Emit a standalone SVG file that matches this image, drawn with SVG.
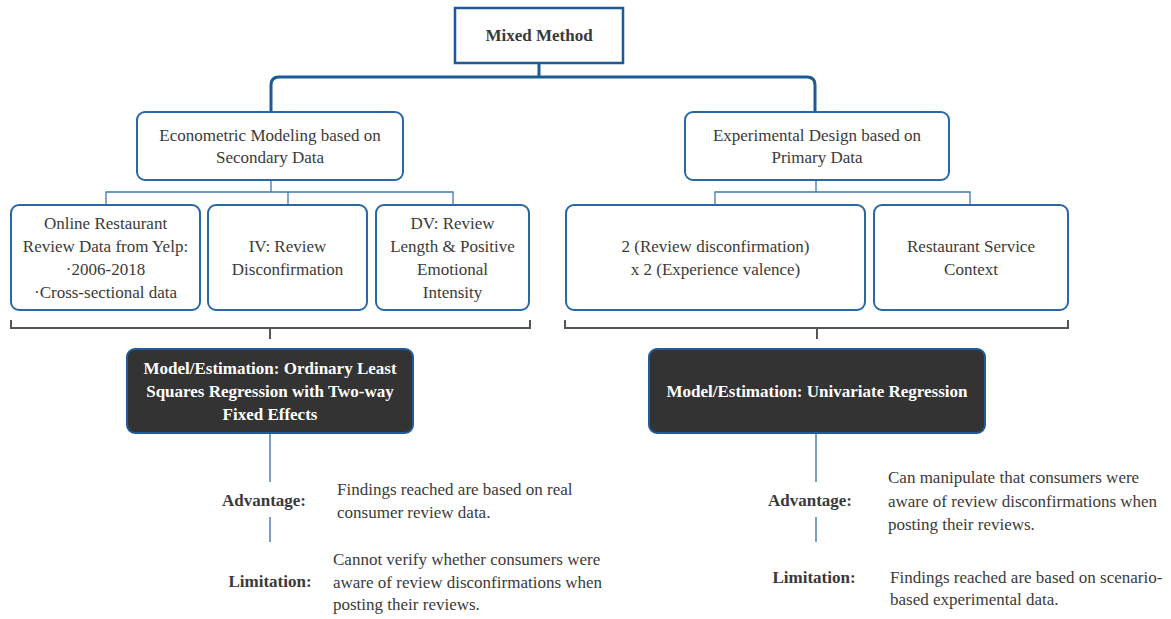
<svg xmlns="http://www.w3.org/2000/svg" width="1171" height="619" viewBox="0 0 1171 619">
<style>
text{font-family:"Liberation Serif","Times New Roman",serif;font-size:17px;fill:#3a3a3a;text-anchor:middle}
.b{font-weight:bold}
.w{fill:#ffffff;font-weight:bold}
.l{text-anchor:start}
.box{fill:#ffffff;stroke:#2a67a3;stroke-width:2}
.dark{fill:#333333;stroke:#1f5c99;stroke-width:2}
.main{fill:none;stroke:#1d5a96;stroke-width:3}
.thin{fill:none;stroke:#3f77b2;stroke-width:1.3}
.brk{fill:none;stroke:#555555;stroke-width:2}
.low{fill:none;stroke:#5f87b3;stroke-width:1.6}
</style>
<rect width="1171" height="619" fill="#ffffff"/>
<g id="connectors">
<path class="main" d="M539,63 V77 M271,112 V85 Q271,77 279,77 H807 Q815,77 815,85 V112"/>
<path class="thin" d="M271,180 V192 M106,205 V192 H453 V205 M288,192 V205"/>
<path class="thin" d="M816,180 V192 M715,205 V192 H970 V205"/>
<path class="brk" d="M11,320 V328 H530 V320 M270,328 V339"/>
<path class="brk" d="M565,320 V328 H1068 V320 M817,328 V339"/>
<path class="low" d="M270,433 V482 M270,517 V542"/>
<path class="low" d="M816,433 V482 M816,517 V542"/>
</g>
<g id="mixed">
<rect x="455" y="8" width="168" height="55" fill="#ffffff" stroke="#1d5a96" stroke-width="2.5"/>
<text class="b" x="539" y="41">Mixed Method</text>
</g>
<g id="econometric">
<rect class="box" x="137" y="112" width="266" height="68" rx="8"/>
<text x="270" y="141">Econometric Modeling based on</text>
<text x="270" y="163">Secondary Data</text>
</g>
<g id="experimental">
<rect class="box" x="685" y="112" width="264" height="68" rx="8"/>
<text x="817" y="141">Experimental Design based on</text>
<text x="817" y="163">Primary Data</text>
</g>
<g id="online">
<rect class="box" x="11" y="205" width="189" height="105" rx="8"/>
<text x="105.5" y="229">Online Restaurant</text>
<text x="105.5" y="252">Review Data from Yelp:</text>
<text x="105.5" y="275">·2006-2018</text>
<text x="105.5" y="298">·Cross-sectional data</text>
</g>
<g id="iv">
<rect class="box" x="208" y="205" width="159" height="105" rx="8"/>
<text x="287.5" y="252">IV: Review</text>
<text x="287.5" y="275">Disconfirmation</text>
</g>
<g id="dv">
<rect class="box" x="376" y="205" width="153" height="105" rx="8"/>
<text x="452.5" y="229">DV: Review</text>
<text x="452.5" y="252">Length &amp; Positive</text>
<text x="452.5" y="275">Emotional</text>
<text x="452.5" y="298">Intensity</text>
</g>
<g id="design">
<rect class="box" x="566" y="205" width="299" height="105" rx="8"/>
<text x="715.5" y="252">2 (Review disconfirmation)</text>
<text x="715.5" y="275">x 2 (Experience valence)</text>
</g>
<g id="context">
<rect class="box" x="874" y="205" width="194" height="105" rx="8"/>
<text x="971" y="252">Restaurant Service</text>
<text x="971" y="275">Context</text>
</g>
<g id="model-ols">
<rect class="dark" x="127" y="349" width="286" height="84" rx="8"/>
<text class="w" x="270" y="374">Model/Estimation: Ordinary Least</text>
<text class="w" x="270" y="397">Squares Regression with Two-way</text>
<text class="w" x="270" y="420">Fixed Effects</text>
</g>
<g id="model-uni">
<rect class="dark" x="649" y="349" width="336" height="84" rx="8"/>
<text class="w" x="817" y="397">Model/Estimation: Univariate Regression</text>
</g>
<g id="left-eval">
<text class="b" x="264" y="506">Advantage:</text>
<text class="l" x="337" y="495">Findings reached are based on real</text>
<text class="l" x="337" y="518">consumer review data.</text>
<text class="b" x="270" y="587">Limitation:</text>
<text class="l" x="333" y="565">Cannot verify whether consumers were</text>
<text class="l" x="333" y="588">aware of review disconfirmations when</text>
<text class="l" x="333" y="610">posting their reviews.</text>
</g>
<g id="right-eval">
<text class="b" x="810" y="506">Advantage:</text>
<text class="l" x="888" y="483">Can manipulate that consumers were</text>
<text class="l" x="888" y="507">aware of review disconfirmations when</text>
<text class="l" x="888" y="530">posting their reviews.</text>
<text class="b" x="814" y="583">Limitation:</text>
<text class="l" x="890" y="583">Findings reached are based on scenario-</text>
<text class="l" x="890" y="605">based experimental data.</text>
</g>
</svg>
